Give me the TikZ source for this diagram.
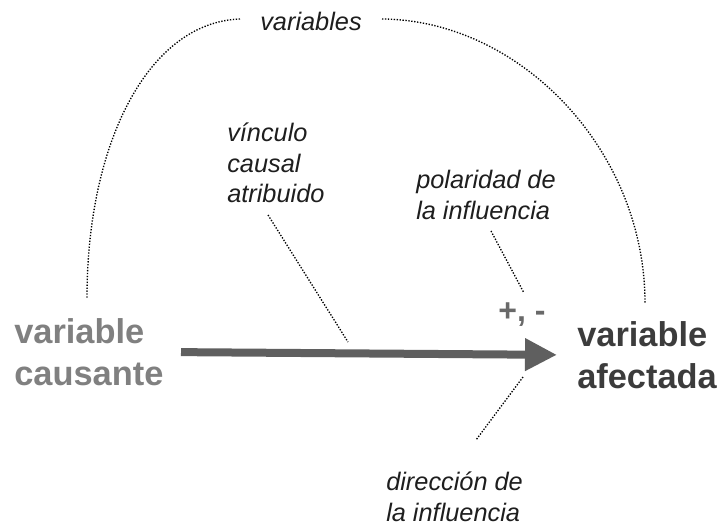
\documentclass[tikz,border=0pt]{standalone}
\usepackage{fontspec}
\setmainfont{Liberation Sans}
\usepackage{tikz}
\usetikzlibrary{arrows.meta,positioning}
\usepackage{xcolor}
\definecolor{cdtext}{RGB}{30,30,30}
\definecolor{cdcause}{RGB}{128,128,128}
\definecolor{cdeffect}{RGB}{60,60,60}
\definecolor{cdarrow}{RGB}{95,95,95}
\definecolor{cdsign}{RGB}{105,105,105}
\newcommand{\cdnote}{\fontsize{19}{23}\selectfont\itshape}
\newcommand{\cdbig}{\fontsize{25.8}{31.5}\selectfont\bfseries}
\tikzstyle{note} = [inner sep=0pt, align=left, color=cdtext, font=\cdnote]
\tikzstyle{leader} = [line width=1pt, dash pattern=on 1pt off 1.2pt, color=black]
\tikzstyle{causal} = [line width=6pt, -{Triangle[length=24pt,width=23pt]}, color=cdarrow]

\begin{document}
\begin{tikzpicture}[x=0.75pt, y=-0.75pt]
\useasboundingbox (0,0) rectangle (717,525);

% Variables
\node[inner sep=0pt, align=left, color=cdcause, font=\cdbig, anchor=west] (causa) at (14,352) {variable\\causante};
\node[inner sep=0pt, align=left, color=cdeffect, font=\cdbig, anchor=west] (efecto) at (577,355) {variable\\afectada};

% Causal link
\draw[causal, shorten <=13pt, shorten >=15pt] (causa.east) -- (efecto.west);
\node[font=\fontsize{24}{28}\selectfont\bfseries, color=cdsign, inner sep=0pt] (signo) at (522,315) {+, -};

% Annotations
\node[note] (vars) at (311,21) {variables};
\node[note, anchor=west] (vinculo) at (227,163) {vínculo\\causal\\atribuido};
\node[note, anchor=west] (polaridad) at (416,195) {polaridad de\\la influencia};
\node[note, anchor=west] (direccion) at (386,497) {dirección de\\la influencia};

% Leaders
\coordinate (l1) at (240,19);
\coordinate (l2) at (87,298);
\coordinate (r1) at (382,19);
\coordinate (r2) at (645,303);
\draw[leader] (l1) .. controls (150,22) and (87,140) .. (l2);
\draw[leader] (r1) .. controls (520,20) and (645,150) .. (r2);

\coordinate (v1) at (268,215);
\coordinate (v2) at (348,342);
\draw[leader] (v1) -- (v2);
\coordinate (p1) at (491,231);
\coordinate (p2) at (524,293);
\draw[leader] (p1) -- (p2);
\coordinate (d1) at (523,377);
\coordinate (d2) at (476,440);
\draw[leader] (d1) -- (d2);
\end{tikzpicture}
\end{document}
